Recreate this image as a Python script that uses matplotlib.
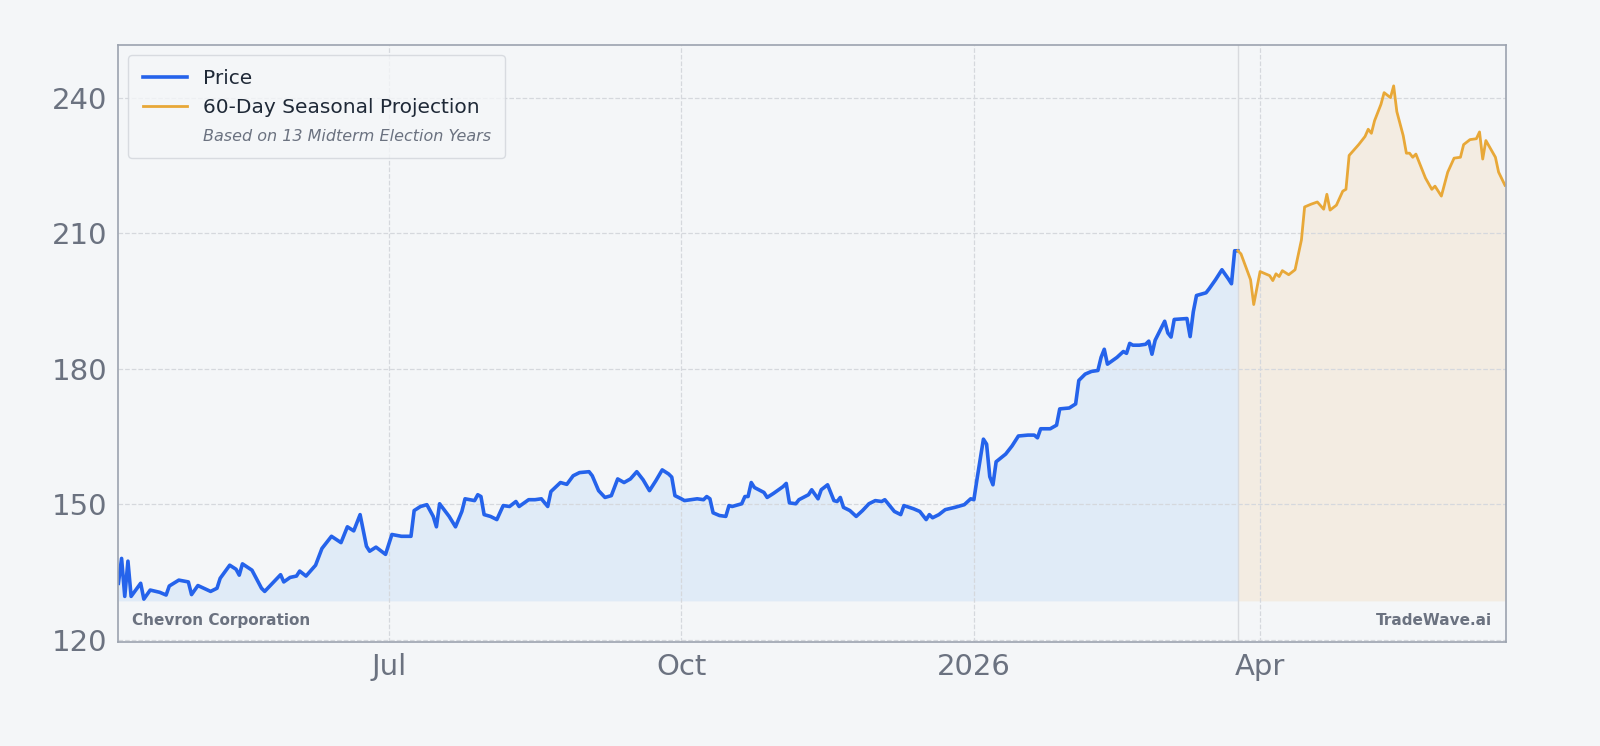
import matplotlib
matplotlib.use("Agg")
import matplotlib.pyplot as plt
import matplotlib.dates as mdates
from matplotlib.ticker import FixedLocator
import numpy as np
import pandas as pd

start = pd.Timestamp("2025-04-07")
price_days = [0,1,2,3,4,7,8,10,13,15,16,19,22,23,25,29,31,32,35,37,38,39,42,45,46,49,51,52,54,56,57,59,62,64,67,70,72,74,76,78,79,81,84,86,89,92,93,95,97,99,100,101,104,106,108,109,112,113,114,115,117,119,121,123,125,126,129,131,133,135,136,139,141,143,145,148,149,151,153,155,157,159,161,163,165,167,169,171,173,174,175,177,178,180,182,184,185,186,187,189,191,192,193,196,197,198,199,200,203,204,206,209,210,211,213,214,217,218,220,221,223,225,226,227,228,230,232,234,236,238,240,241,244,246,247,250,252,254,255,256,258,260,263,266,268,269,270,272,273,274,275,276,279,281,283,286,288,289,290,293,295,296,299,301,302,304,306,308,309,310,311,314,316,317,318,319,321,323,324,325,326,329,330,331,332,336,337,338,339,342,343,345,347,349,350,351,352]
price_vals = [132.5,138,129.6,137.4,129.6,132.5,129,131,130.5,129.9,131.9,133.2,132.8,130,132,130.7,131.4,133.6,136.5,135.6,134.3,136.8,135.4,131.4,130.7,132.9,134.4,132.8,133.8,134.1,135.2,134.1,136.5,140.2,142.9,141.5,145,144.1,147.7,140.7,139.6,140.5,138.9,143.3,142.9,142.9,148.6,149.5,149.9,147.3,145,150.1,147.3,145,148.4,151.2,150.8,152.1,151.7,147.7,147.3,146.6,149.7,149.5,150.6,149.5,151,151,151.2,149.5,152.8,154.8,154.4,156.3,157,157.2,156.3,153,151.5,151.9,155.6,154.8,155.6,157.2,155.4,153,155.2,157.6,156.7,156,151.9,151.2,150.8,151,151.2,151,151.7,151.2,148.1,147.5,147.3,149.7,149.5,150.1,151.7,151.7,154.8,153.7,152.6,151.5,152.4,153.9,154.6,150.3,150.1,151,152.1,153.2,151.2,153.2,154.3,150.8,150.6,151.5,149.3,148.6,147.3,148.6,150.1,150.8,150.6,151,148.4,147.7,149.7,149,148.4,146.6,147.7,147,147.7,148.8,149.3,149.9,151.2,151,155.6,164.4,163.3,156.1,154.3,159.4,161.1,162.9,165.1,165.3,165.3,164.7,166.7,166.7,167.5,171.1,171.3,172.2,177.4,178.8,179.4,179.6,182.5,184.3,181,182.5,183.8,183.4,185.6,185.2,185.2,185.4,186.1,183.2,186.3,190.5,187.9,187,190.9,191.1,187.1,192.6,196.2,196.8,197.7,199.7,201.9,199.9,198.8,206.1,206.1]
proj_days = [352,353,356,357,359,362,363,364,365,366,368,370,372,373,375,377,379,380,381,383,385,386,387,390,392,393,394,395,397,398,400,401,402,404,405,406,407,408,411,413,414,416,418,420,422,423,425,427,428,429,430,433,434,436]
proj_vals = [206.1,205.4,199.7,194.2,201.5,200.6,199.5,201,200.4,201.7,200.8,201.9,208.5,215.8,216.4,216.9,215.3,218.6,215.1,216.2,219.3,219.7,227.2,229.6,231.4,233,232.1,234.9,238.5,241.1,240,242.6,236.9,231.6,227.7,227.7,226.8,227.5,222.2,219.7,220.4,218.2,223.5,226.6,226.8,229.6,230.7,230.9,232.4,226.4,230.5,226.8,223.5,220.6]
y_ticks = [120, 150, 180, 210, 240]
x_tick_dates = ["2025-07-01", "2025-10-01", "2026-01-01", "2026-04-01"]
x_tick_labels = ["Jul", "Oct", "2026", "Apr"]

pd_dates = start + pd.to_timedelta(price_days, unit="D")
pj_dates = start + pd.to_timedelta(proj_days, unit="D")
base = min(price_vals) - 0.4

bg = "#f4f6f8"
fig = plt.figure(figsize=(16, 7.46), dpi=100, facecolor=bg)
ax = fig.add_axes([0.074, 0.14, 0.867, 0.80])
ax.set_facecolor(bg)

ax.fill_between(pd_dates, price_vals, base, color="#dce9f7", alpha=0.8, lw=0)
ax.fill_between(pj_dates, proj_vals, base, color="#f3ebe0", alpha=0.9, lw=0)
ax.axvline(pd_dates[-1], color="#d8dade", lw=1)
ax.plot(pd_dates, price_vals, color="#2563eb", lw=2.6, label="Price")
ax.plot(pj_dates, proj_vals, color="#e8a838", lw=2.0, label="60-Day Seasonal Projection")
ax.plot([], [], color="none", label="Based on 13 Midterm Election Years")

ax.set_xlim(start, start + pd.Timedelta(days=436.2))
ax.set_ylim(119.6, 251.7)
ax.set_yticks(y_ticks)
ax.xaxis.set_major_locator(FixedLocator(mdates.date2num(pd.to_datetime(x_tick_dates))))
ax.set_xticklabels(x_tick_labels)
ax.tick_params(axis="both", labelsize=21, colors="#6b7280", length=0, pad=8)
ax.grid(True, color="#d5d8dd", ls="--", lw=0.9)
for s in ax.spines.values():
    s.set_color("#9ca3af")
    s.set_linewidth(1.2)

leg = ax.legend(loc="upper left", fontsize=14.5, frameon=True, facecolor=bg, edgecolor="#d1d5db", borderpad=0.7, handlelength=2.2)
for t in leg.get_texts():
    t.set_color("#1f2937")
t = leg.get_texts()[2]
t.set_fontsize(11.5); t.set_style("italic"); t.set_color("#6b7280")

ax.text(0.01, 0.035, "Chevron Corporation", transform=ax.transAxes, fontsize=11, fontweight="bold", color="#6b7280", va="center")
ax.text(0.99, 0.035, "TradeWave.ai", transform=ax.transAxes, fontsize=11, fontweight="bold", color="#6b7280", va="center", ha="right")

fig.savefig("out.png", dpi=100, facecolor=bg)
